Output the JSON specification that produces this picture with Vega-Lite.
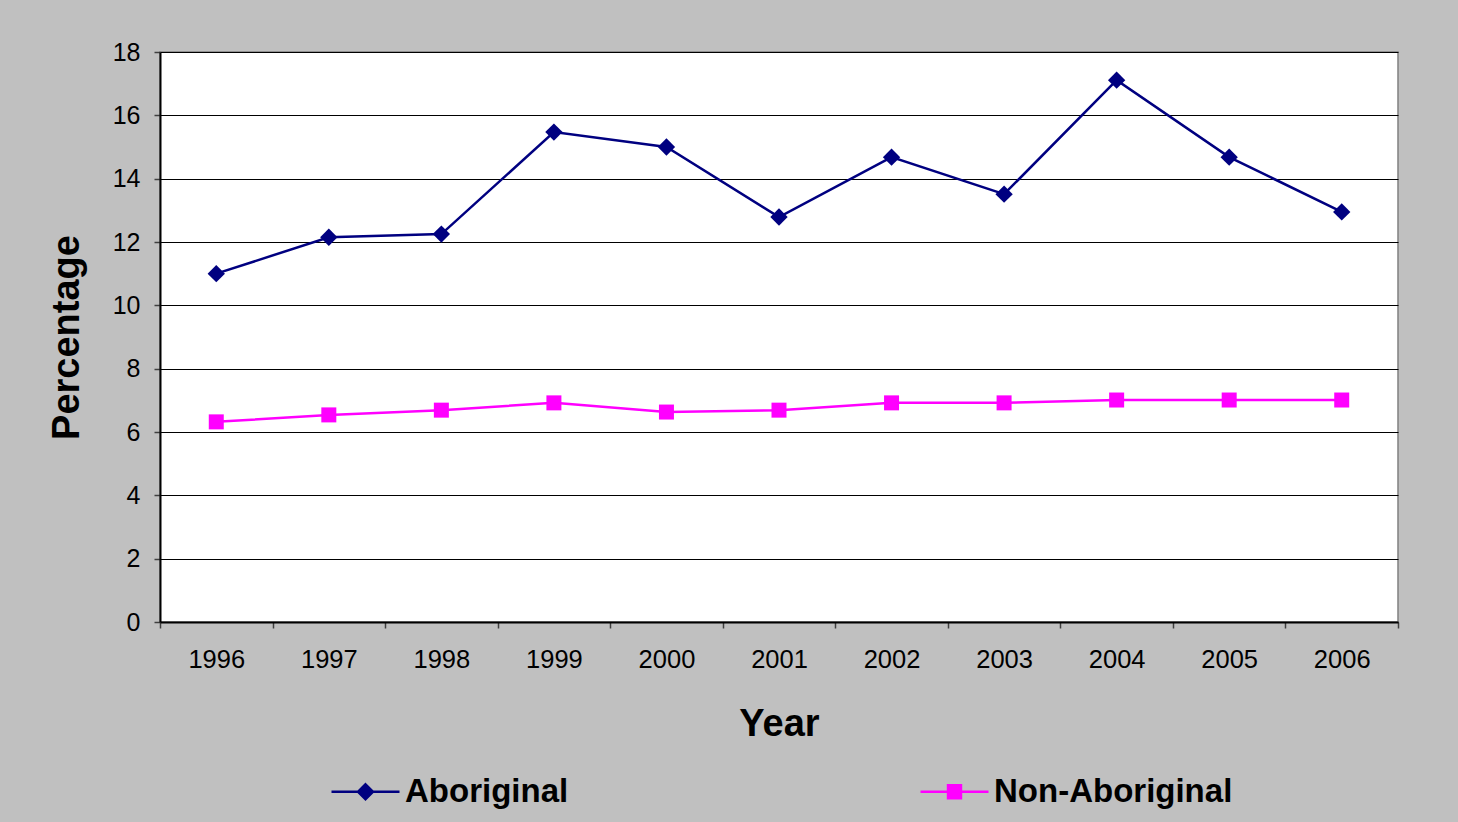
{
  "$schema": "https://vega.github.io/schema/vega-lite/v6.json",
  "width": 1238,
  "height": 570,
  "autosize": "none",
  "padding": {"left": 160, "top": 52, "right": 60, "bottom": 200},
  "background": "#C0C0C0",
  "config": {
    "font": "Liberation Sans",
    "view": {"fill": "white", "stroke": "#808080", "strokeWidth": 1.5},
    "axis": {"labelColor": "black", "titleColor": "black", "labelFont": "Liberation Sans", "titleFont": "Liberation Sans"}
  },
  "data": {
    "values": [
      {"year": "1996", "group": "Aboriginal", "pct": 11.0},
      {"year": "1997", "group": "Aboriginal", "pct": 12.15},
      {"year": "1998", "group": "Aboriginal", "pct": 12.25},
      {"year": "1999", "group": "Aboriginal", "pct": 15.47},
      {"year": "2000", "group": "Aboriginal", "pct": 15.0},
      {"year": "2001", "group": "Aboriginal", "pct": 12.79},
      {"year": "2002", "group": "Aboriginal", "pct": 14.68},
      {"year": "2003", "group": "Aboriginal", "pct": 13.51},
      {"year": "2004", "group": "Aboriginal", "pct": 17.11},
      {"year": "2005", "group": "Aboriginal", "pct": 14.68},
      {"year": "2006", "group": "Aboriginal", "pct": 12.95},
      {"year": "1996", "group": "Non-Aboriginal", "pct": 6.32},
      {"year": "1997", "group": "Non-Aboriginal", "pct": 6.54},
      {"year": "1998", "group": "Non-Aboriginal", "pct": 6.69},
      {"year": "1999", "group": "Non-Aboriginal", "pct": 6.92},
      {"year": "2000", "group": "Non-Aboriginal", "pct": 6.63},
      {"year": "2001", "group": "Non-Aboriginal", "pct": 6.69},
      {"year": "2002", "group": "Non-Aboriginal", "pct": 6.92},
      {"year": "2003", "group": "Non-Aboriginal", "pct": 6.92},
      {"year": "2004", "group": "Non-Aboriginal", "pct": 7.01},
      {"year": "2005", "group": "Non-Aboriginal", "pct": 7.01},
      {"year": "2006", "group": "Non-Aboriginal", "pct": 7.01}
    ]
  },
  "encoding": {
    "x": {
      "field": "year", "type": "ordinal", "bandPosition": 0.5,
      "scale": {"type": "band", "paddingInner": 0, "paddingOuter": 0},
      "axis": {
        "title": "Year", "titleFontSize": 38, "titleFontWeight": "bold", "titlePadding": 33,
        "labelAngle": 0, "labelFontSize": 25.5, "labelPadding": 19,
        "tickBand": "extent", "tickSize": 6, "tickColor": "#404040", "tickWidth": 1.5,
        "domainColor": "black", "domainWidth": 2, "grid": false
      }
    },
    "y": {
      "field": "pct", "type": "quantitative",
      "scale": {"domain": [0, 18], "nice": false, "zero": true},
      "axis": {
        "title": "Percentage", "titleFontSize": 38, "titleFontWeight": "bold", "titlePadding": 26,
        "values": [0, 2, 4, 6, 8, 10, 12, 14, 16, 18],
        "labelFontSize": 25, "labelPadding": 14,
        "tickSize": 6, "tickColor": "#404040", "tickWidth": 1.5,
        "domainColor": "black", "domainWidth": 2,
        "grid": true, "gridColor": "#000000", "gridWidth": 1
      }
    }
  },
  "layer": [
    {
      "mark": {"type": "line", "strokeWidth": 2.5},
      "encoding": {
        "color": {
          "field": "group", "type": "nominal",
          "scale": {"domain": ["Aboriginal", "Non-Aboriginal"], "range": ["#000080", "#FF00FF"]},
          "legend": {
            "title": null, "orient": "none", "direction": "horizontal",
            "legendX": 170, "legendY": 704, "padding": 0,
            "symbolSize": 4624, "symbolStrokeWidth": 2.5, "symbolOffset": 0,
            "labelFont": "Liberation Sans", "labelFontSize": 33, "labelFontWeight": "bold", "labelColor": "black",
            "labelOffset": 4, "labelLimit": 500, "columnPadding": 346,
            "encode": {
              "symbols": {
                "update": {
                  "shape": {"signal": "datum.value === 'Aboriginal' ? 'M-1,0H1M0,-0.22L0.22,0L0,0.22L-0.22,0Z' : 'M-1,0H1M-0.19,-0.19H0.19V0.19H-0.19Z'"},
                  "size": {"value": 4624},
                  "strokeWidth": {"value": 2.5},
                  "fill": {"signal": "datum.value === 'Aboriginal' ? '#000080' : '#FF00FF'"},
                  "fillOpacity": {"value": 1},
                  "stroke": {"signal": "datum.value === 'Aboriginal' ? '#000080' : '#FF00FF'"},
                  "strokeOpacity": {"value": 1}
                }
              }
            }
          }
        }
      }
    },
    {
      "mark": {"type": "point", "filled": true, "opacity": 1},
      "encoding": {
        "shape": {"condition": {"test": "datum.group === 'Aboriginal'", "value": "diamond"}, "value": "square"},
        "size": {"condition": {"test": "datum.group === 'Aboriginal'", "value": 300}, "value": 225},
        "color": {"condition": {"test": "datum.group === 'Aboriginal'", "value": "#000080"}, "value": "#FF00FF"}
      }
    }
  ]
}
